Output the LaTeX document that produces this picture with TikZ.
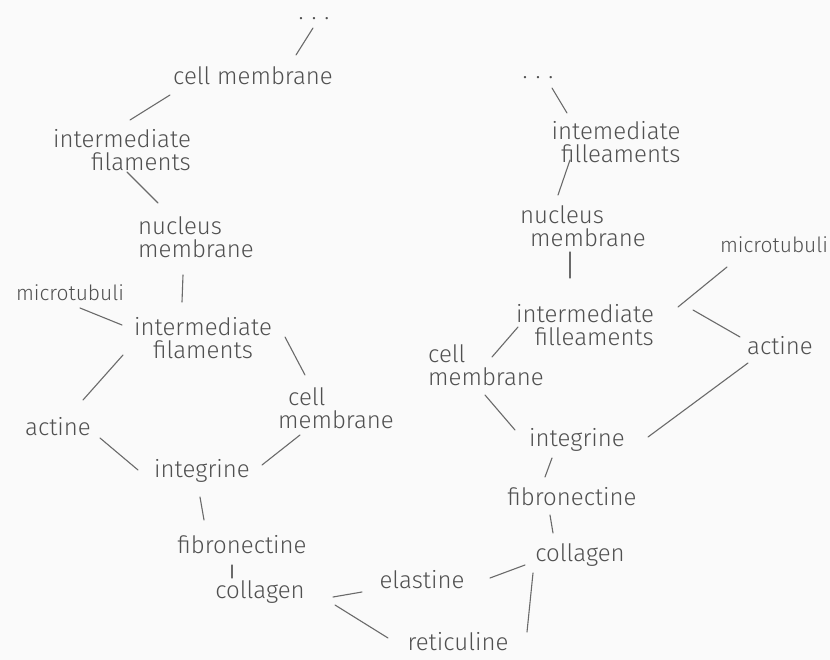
\documentclass[tikz,border=0pt]{standalone}
\usepackage{fontspec}
\setmainfont{Fira Sans}[UprightFont={* Light}]
\usetikzlibrary{calc}
\definecolor{pen}{RGB}{80,80,80}
\definecolor{paper}{RGB}{250,250,250}
\begin{document}
\begin{tikzpicture}[x=1pt,y=-1pt,
  lbl/.style={inner sep=0pt, text=pen, font=\fontsize{24}{23}\selectfont},
  small/.style={font=\fontsize{21}{22}\selectfont},
  con/.style={draw=pen!85, line width=1.1pt, line cap=round}]
\fill[paper] (0,0) rectangle (830,660);
\useasboundingbox (0,0) rectangle (830,660);
% left chain
\node[lbl] (dotsL) at (314,19) {.\,\,.\,\,.};
\node[lbl] (cmA) at (253,76) {cell membrane};
\node[lbl, align=right] (ifA) at (122,150) {intermediate\\filaments};
\node[lbl, align=left] (nmA) at (196,237) {nucleus\\membrane};
\node[lbl, small] (mtA) at (70,293) {microtubuli};
\node[lbl, align=center] (ifB) at (203,338) {intermediate\\filaments};
\node[lbl] (acA) at (58,427) {actine};
\node[lbl, align=left] (cmB) at (336,408) {\hspace*{10pt}cell\\membrane};
\node[lbl] (inA) at (202,471) {integrine};
\node[lbl] (fbA) at (242,545) {fibronectine};
\node[lbl] (coA) at (260,592) {collagen};
\node[lbl] (el) at (422,580) {elastine};
\node[lbl] (re) at (458,642) {reticuline};
% right chain
\node[lbl] (dotsR) at (538,78) {.\,\,.\,\,.};
\node[lbl, align=right] (ifC) at (616,142) {intemediate\\filleaments};
\node[lbl, align=left] (nmC) at (583,226) {nucleus\\\hspace*{10pt}membrane};
\node[lbl, small] (mtC) at (774,245) {microtubuli};
\node[lbl, align=right] (ifD) at (585,325) {intermediate\\filleaments};
\node[lbl, align=left] (cmD) at (486,365) {cell\\membrane};
\node[lbl] (acD) at (780,346) {actine};
\node[lbl] (inD) at (577,440) {integrine};
\node[lbl] (fbD) at (572,497) {fibronectine};
\node[lbl] (coD) at (580,555) {collagen};
% connectors left
\draw[con] ($(dotsL)+(-1,9)$) -- ($(cmA)+(43,-21)$);
\draw[con] ($(cmA)+(-83,19)$) -- ($(ifA)+(8,-30)$);
\draw[con] ($(ifA)+(5,22)$) -- ($(nmA)+(-38,-34)$);
\draw[con] ($(nmA)+(-13,38)$) -- ($(ifB)+(-21,-36)$);
\draw[con] ($(mtA)+(10,15)$) -- ($(ifB)+(-81,-13)$);
\draw[con] ($(ifB)+(-80,17)$) -- ($(acA)+(25,-27)$);
\draw[con] ($(ifB)+(82,-1)$) -- ($(cmB)+(-31,-33)$);
\draw[con] ($(acA)+(42,11)$) -- ($(inA)+(-64,-1)$);
\draw[con] ($(cmB)+(-36,27)$) -- ($(inA)+(60,-6)$);
\draw[con] ($(inA)+(-2,26)$) -- ($(fbA)+(-38,-25)$);
\draw[con] ($(fbA)+(-10,20)$) -- ($(coA)+(-28,-14)$);
\draw[con] ($(coA)+(73,5)$) -- ($(el)+(-60,12)$);
\draw[con] ($(coA)+(75,13)$) -- ($(re)+(-70,-4)$);
% connectors right
\draw[con] ($(el)+(68,-2)$) -- ($(coD)+(-55,10)$);
\draw[con] ($(re)+(69,-10)$) -- ($(coD)+(-47,18)$);
\draw[con] ($(fbD)+(-22,18)$) -- ($(coD)+(-27,-22)$);
\draw[con] ($(inD)+(-25,18)$) -- ($(fbD)+(-27,-20)$);
\draw[con] ($(inD)+(71,-3)$) -- ($(acD)+(-32,17)$);
\draw[con] ($(cmD)+(-1,30)$) -- ($(inD)+(-62,-10)$);
\draw[con] ($(ifD)+(-67,2)$) -- ($(cmD)+(6,-8)$);
\draw[con] ($(ifD)+(93,-18)$) -- ($(mtC)+(-47,22)$);
\draw[con] ($(ifD)+(108,-15)$) -- ($(acD)+(-40,-9)$);
\draw[con] ($(nmC)+(-13,26)$) -- ($(ifD)+(-15,-47)$);
\draw[con] ($(ifC)+(-46,18)$) -- ($(nmC)+(-25,-31)$);
\draw[con] ($(dotsR)+(14,10)$) -- ($(ifC)+(-49,-29)$);
\end{tikzpicture}
\end{document}
